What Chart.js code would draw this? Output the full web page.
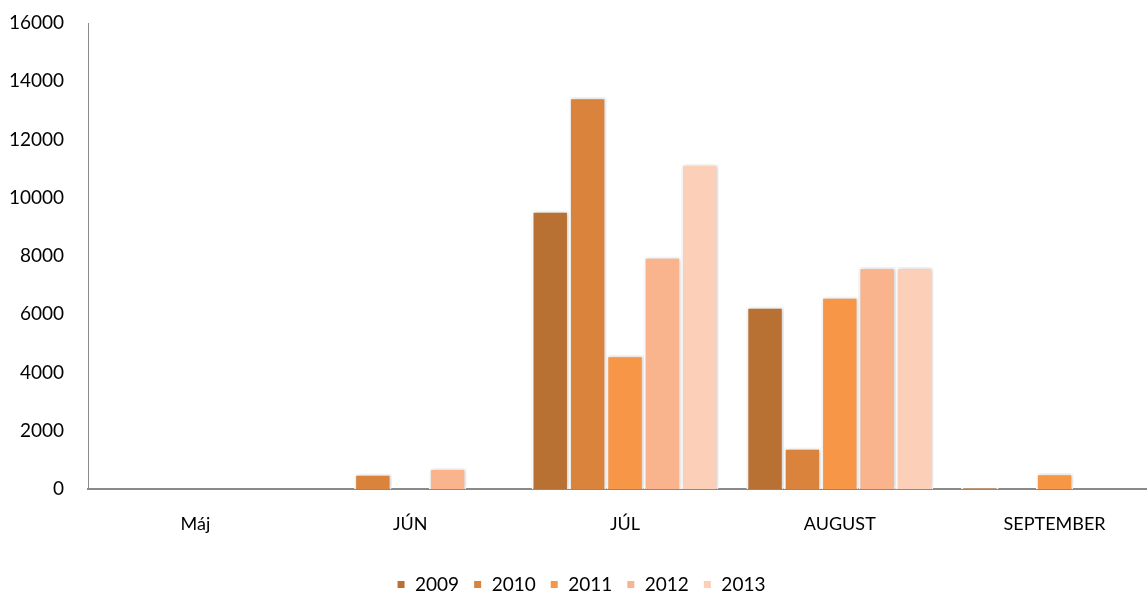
<!DOCTYPE html>
<html><head><meta charset="utf-8">
<script src="https://cdn.jsdelivr.net/npm/chart.js@4"></script>
<style>html,body{margin:0;padding:0;overflow:hidden;background:#fff}#wrap{width:1162px;height:604px}</style>
</head><body><div id="wrap"><canvas id="c"></canvas></div>
<script>
const categories = ["Máj", "JÚN", "JÚL", "AUGUST", "SEPTEMBER"];
const years = ["2009", "2010", "2011", "2012", "2013"];
const s2009 = [null, null, 9550, 6260, 40];
const s2010 = [null, 520, 13450, 1420, null];
const s2011 = [null, null, 4590, 6600, 540];
const s2012 = [null, 720, 7970, 7610, null];
const s2013 = [null, null, 11160, 7610, null];
const yTicks = [0, 2000, 4000, 6000, 8000, 10000, 12000, 14000, 16000];
const colors = ["#B97133", "#D9833D", "#F79646", "#F9B48D", "#FBCFB8"];
const series = [s2009, s2010, s2011, s2012, s2013];

const shadow = {
  id: 'shadow',
  beforeDatasetsDraw(chart) {
    const ctx = chart.ctx; ctx.save();
    ctx.shadowColor = 'rgba(0,0,0,0.22)'; ctx.shadowBlur = 4; ctx.shadowOffsetX = 1; ctx.shadowOffsetY = 0;
  },
  afterDatasetsDraw(chart) { chart.ctx.restore(); }
};

new Chart(document.getElementById('c'), {
  type: 'bar',
  data: {
    labels: categories,
    datasets: series.map((d, i) => ({
      label: years[i], data: d, backgroundColor: colors[i],
      borderColor: '#ffffff', borderWidth: 2, borderSkipped: 'bottom',
      barPercentage: 1.0, categoryPercentage: 0.87
    }))
  },
  plugins: [shadow],
  options: {
    responsive: true, maintainAspectRatio: false, animation: false,
    layout: { padding: { top: 23, right: 0, left: 0, bottom: 0 } },
    plugins: {
      tooltip: { enabled: false },
      legend: {
        position: 'bottom',
        labels: { font: { family: 'Lato', size: 19 }, color: '#000', boxWidth: 9, boxHeight: 9, padding: 14 }
      }
    },
    scales: {
      x: {
        grid: { display: false, drawTicks: false },
        border: { color: '#8a8a8a', width: 2 },
        ticks: { font: { family: 'Lato', size: 18 }, color: '#000', padding: 24 },
        afterFit: s => { s.height = 72; }
      },
      y: {
        min: 0, max: 16000,
        afterBuildTicks: s => { s.ticks = yTicks.map(v => ({ value: v })); },
        grid: { display: false, drawTicks: false },
        border: { color: '#8a8a8a', width: 1 },
        ticks: { font: { family: 'Lato', size: 19 }, color: '#000', padding: 24, callback: v => String(v) },
        afterFit: s => { s.width = 88; s.paddingTop = 0; }
      }
    }
  }
});
</script></body></html>
